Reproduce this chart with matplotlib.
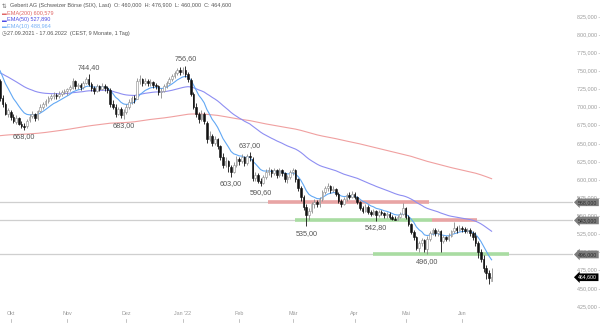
import numpy as np
import pandas as pd
import matplotlib
matplotlib.use('Agg')
import matplotlib.pyplot as plt
import matplotlib.transforms as mtransforms

# Geberit AG, SIX, daily bars 27.09.2021 - 17.06.2022
holidays = ['2021-12-24', '2021-12-31', '2022-04-15', '2022-04-18', '2022-05-26', '2022-06-06']

opens = [735, 712, 703, 690,
         693, 686, 679, 684, 676, 673, 673, 681, 687, 690, 684, 694, 700, 704, 708, 712, 714, 716, 714, 718, 720,
         722, 724, 726, 735, 728, 730, 727, 733, 738, 731, 726, 722, 728, 725, 729, 726, 723, 704, 700, 690, 697, 688,
         693, 700, 706, 712, 711, 735, 738, 733, 736, 732, 734, 730, 728, 720, 722, 728, 733, 738, 742, 746, 750,
         748, 750, 745, 737, 718, 700, 690, 683, 690, 678, 655, 660, 650, 655, 645, 630, 620, 625, 617, 610, 620,
         628, 625, 630, 622, 632, 628, 602, 605, 598, 595, 603, 610, 612, 608, 612, 605, 612, 608, 600, 603,
         610, 612, 600, 588, 575, 562, 550, 556, 565, 568, 565, 572, 582, 588, 590, 585, 586, 580, 570, 566, 572, 578, 576,
         580, 575, 568, 560, 556, 562, 555, 552, 556, 550, 555, 553, 550, 552, 548, 545, 544, 548, 552,
         560, 548, 538, 527, 520, 505, 512, 516, 503, 518, 526, 530, 525, 528, 515, 520, 518, 522, 528, 532, 530,
         533, 531, 529, 530, 526, 522, 512, 500, 490, 478, 470, 460]
highs = [738, 716, 706, 698,
         695, 690, 688, 686, 680, 677, 683, 690, 694, 691, 696, 703, 707, 711, 715, 718, 720, 719, 721, 723, 725,
         726, 730, 739, 737, 733, 732, 736, 741, 744.4, 734, 728, 731, 730, 732, 731, 729, 726, 709, 703, 700, 699, 697,
         704, 710, 715, 716, 740, 743, 740, 740, 738, 738, 736, 733, 730, 726, 731, 736, 741, 745, 749, 753, 754,
         755, 756.6, 748, 739, 720, 705, 693, 695, 692, 680, 666, 662, 660, 657, 647, 636, 630, 627, 620, 624, 632,
         631, 634, 632, 635, 637, 630, 610, 608, 601, 606, 614, 617, 614, 616, 614, 615, 614, 610, 606, 613,
         616, 614, 602, 590, 578, 566, 560, 568, 572, 571, 575, 585, 591, 594, 592, 590, 588, 582, 573, 575, 581, 582, 583,
         582, 577, 570, 563, 565, 564, 558, 559, 558, 558, 558, 555, 555, 554, 551, 549, 551, 555, 567,
         562, 550, 540, 530, 522, 515, 519, 518, 521, 529, 533, 532, 531, 530, 523, 522, 525, 530, 541, 535, 537,
         535, 534, 533, 532, 528, 527, 514, 503, 495, 481, 474, 476.9]
lows = [708, 700, 688, 686,
        682, 678, 676, 674, 670, 668, 671, 679, 684, 680, 682, 692, 697, 701, 705, 709, 711, 710, 712, 715, 717,
        716, 721, 724, 725, 724, 723, 725, 731, 728, 722, 718, 720, 721, 723, 722, 719, 700, 697, 686, 688, 684, 683,
        690, 697, 703, 705, 710, 731, 728, 730, 728, 729, 726, 724, 716, 712, 720, 726, 731, 736, 740, 743, 744,
        745, 741, 734, 714, 697, 686, 678, 680, 676, 650, 652, 646, 647, 641, 626, 615, 617, 610, 603, 608, 617,
        619, 622, 618, 620, 625, 598, 598, 594, 590.6, 593, 600, 606, 603, 605, 601, 603, 604, 596, 595, 600,
        606, 596, 584, 570, 558, 535, 544, 553, 560, 561, 562, 570, 580, 584, 581, 582, 577, 567, 562, 564, 570, 573, 574,
        572, 565, 557, 553, 554, 552, 549, 550, 542.8, 548, 550, 547, 547, 545, 544, 543.5, 544, 546, 550,
        545, 535, 524, 516, 502, 500, 508, 500, 496, 515, 523, 521, 522, 500, 512, 514, 515, 520, 526, 526, 528,
        527, 526, 525, 522, 516, 508, 491, 485, 472, 462, 455, 460]
closes = [712, 703, 690, 695,
          686, 680, 684, 676, 673, 672, 680, 686, 690, 684, 694, 700, 704, 708, 712, 714, 716, 714, 718, 720, 722,
          724, 727, 735, 728, 730, 727, 733, 738, 731, 726, 722, 728, 725, 729, 726, 723, 704, 700, 690, 697, 688, 693,
          700, 706, 712, 710, 735, 738, 733, 736, 732, 734, 730, 728, 720, 722, 728, 733, 738, 742, 746, 750, 748,
          750, 745, 738, 718, 700, 690, 683, 690, 680, 655, 660, 650, 655, 645, 630, 620, 625, 618, 610, 620, 628,
          625, 630, 622, 632, 630, 602, 605, 598, 595, 603, 610, 612, 608, 612, 605, 612, 608, 600, 603, 610,
          612, 600, 588, 575, 562, 550, 556, 565, 568, 565, 572, 582, 588, 590, 585, 586, 580, 570, 566, 572, 578, 576, 580,
          575, 568, 560, 556, 562, 555, 552, 556, 550, 555, 553, 550, 552, 548, 545, 544, 548, 552, 560,
          548, 538, 527, 520, 505, 512, 516, 503, 518, 526, 530, 525, 528, 515, 520, 518, 522, 528, 532, 530, 533,
          531, 529, 530, 526, 520, 512, 500, 490, 478, 470, 464, 464.6]

# EMA values on the day before the first bar
ema_seed = {200: 659.4, 50: 748.0, 10: 758.0}
ema_colors = {200: '#f0a0a0', 50: '#8e8ef2', 10: '#62a8f4'}
ema_text_colors = {200: '#e06666', 50: '#4b4be6', 10: '#74b0f6'}
ema_last = {200: '600,579', 50: '527,890', 10: '488,964'}

# marked swing points: (bar index, 'high' or 'low')
pivots = [(33, 'high'), (69, 'high'), (93, 'high'),
          (9, 'low'), (46, 'low'), (86, 'low'), (97, 'low'), (114, 'low'), (140, 'low'), (159, 'low')]

# support / resistance zones: level, first bar, last bar, colour
zones = [(568, 99.8, 159.7, '#e8a4a4'),
         (543, 109.8, 160.8, '#a9dca2'),
         (543, 160.8, 177.6, '#e8a4a4'),
         (496, 138.9, 189.5, '#a9dca2')]
levels = [568, 543, 496]

month_labels = ['Okt', 'Nov', 'Dez', "Jan '22", 'Feb', 'Mär', 'Apr', 'Mai', 'Jun']

dates = pd.bdate_range('2021-09-27', '2022-06-17')
dates = dates[~dates.isin(pd.to_datetime(holidays))]
o = np.array(opens, float)
h = np.array(highs, float)
l = np.array(lows, float)
c = np.array(closes, float)
x = np.arange(len(dates))


def ema(seed, values, span):
    s = pd.Series([seed] + list(values))
    return s.ewm(span=span, adjust=False).mean().iloc[1:].to_numpy()


plt.rcParams['font.family'] = ['Liberation Sans', 'DejaVu Sans']
fig = plt.figure(figsize=(6, 3.24), dpi=100)
ax = fig.add_axes([0, 0.0494, 0.955, 0.9506])
ax.set_xlim(0, 213.3)
ax.set_ylim(422.2, 847.1)

# horizontal levels and zones
for lv in levels:
    ax.axhline(lv, color='#cfcfcf', lw=0.9, zorder=1)
for lv, x0, x1, col in zones:
    ax.plot([x0, x1], [lv, lv], color=col, lw=2.6, solid_capstyle='butt', zorder=1.5)

# EMAs
for span in (200, 50, 10):
    ax.plot(x, ema(ema_seed[span], c, span), color=ema_colors[span], lw=0.8, zorder=2)

# candles
up = c >= o
ax.vlines(x[up], l[up], h[up], color='#8a8a8a', lw=0.6, zorder=3)
ax.vlines(x[~up], l[~up], h[~up], color='#111111', lw=0.6, zorder=3)
body_lo = np.minimum(o, c)
body_h = np.maximum(np.abs(c - o), 0.8)
ax.bar(x[up], body_h[up], bottom=body_lo[up], width=0.6, color='white', edgecolor='#8a8a8a', lw=0.4, zorder=4)
ax.bar(x[~up], body_h[~up], bottom=body_lo[~up], width=0.6, color='#111111', edgecolor='#111111', lw=0.4, zorder=4)

# swing point labels
for i, kind in pivots:
    if kind == 'high':
        v, dy = h[i], 5
    else:
        v, dy = l[i], -5
    ax.annotate(f'{v:.2f}'.replace('.', ','), (i, v), xytext=(0, dy), textcoords='offset points',
                ha='center', va='center', fontsize=5.2, color='#555555')

# price tags on the right
tr = mtransforms.blended_transform_factory(ax.transAxes, ax.transData)
for lv in levels:
    ax.text(1.009, lv, f'{lv:.3f}'.replace('.', ','), transform=tr, ha='left', va='center', fontsize=3.8,
            color='#2a2a2a', clip_on=False, zorder=6,
            bbox=dict(boxstyle='larrow,pad=0.25', fc='#7d7d7d', ec='none'))
ax.text(1.009, c[-1], f'{c[-1]:.3f}'.replace('.', ','), transform=tr, ha='left', va='center', fontsize=3.8,
        color='white', clip_on=False, zorder=6,
        bbox=dict(boxstyle='larrow,pad=0.25', fc='#000000', ec='none'))

# axes
ax.yaxis.tick_right()
yt = np.arange(425, 826, 25)
ax.set_yticks(yt)
ax.set_yticklabels([f'{v:.3f}'.replace('.', ',') + ' -' for v in yt])
ax.tick_params(axis='y', length=0, pad=3, labelsize=3.9, labelcolor='#9a9a9a')
month_pos = [np.argmax((dates.year == d.year) & (dates.month == d.month))
             for d in pd.date_range('2021-10-01', '2022-06-01', freq='MS')]
ax.set_xticks(month_pos)
ax.set_xticklabels(month_labels)
ax.tick_params(axis='x', length=0, pad=2, labelsize=3.9, labelcolor='#9a9a9a')
trx = mtransforms.blended_transform_factory(ax.transData, ax.transAxes)
for p in month_pos:
    ax.plot([p, p], [-0.036, -0.046], color='#aaaaaa', lw=0.5, transform=trx, clip_on=False)
for s in ax.spines.values():
    s.set_visible(False)

# header
fs = 4.0
fig.text(2 / 600, 1 - 6 / 324, '⇅', fontsize=fs, color='#666666', va='center')
fig.text(10 / 600, 1 - 6 / 324,
         'Geberit AG (Schweizer Börse (SIX), Last)  O: 460,000  H: 476,900  L: 460,000  C: 464,600',
         fontsize=fs, color='#555555', va='center')
for k, span in enumerate((200, 50, 10)):
    yy = 1 - (13.3 + 6.7 * k) / 324
    fig.text(2 / 600, yy, '▬', fontsize=fs - 0.6, color=ema_text_colors[span], va='center')
    fig.text(7 / 600, yy, f'EMA({span}) {ema_last[span]}', fontsize=fs, color=ema_text_colors[span], va='center')
fig.text(2 / 600, 1 - 33.7 / 324, '◷', fontsize=fs, color='#666666', va='center')
fig.text(7 / 600, 1 - 33.7 / 324, '27.09.2021 - 17.06.2022  (CEST, 9 Monate, 1 Tag)',
         fontsize=fs, color='#555555', va='center')

fig.savefig('out.png', dpi=100)
